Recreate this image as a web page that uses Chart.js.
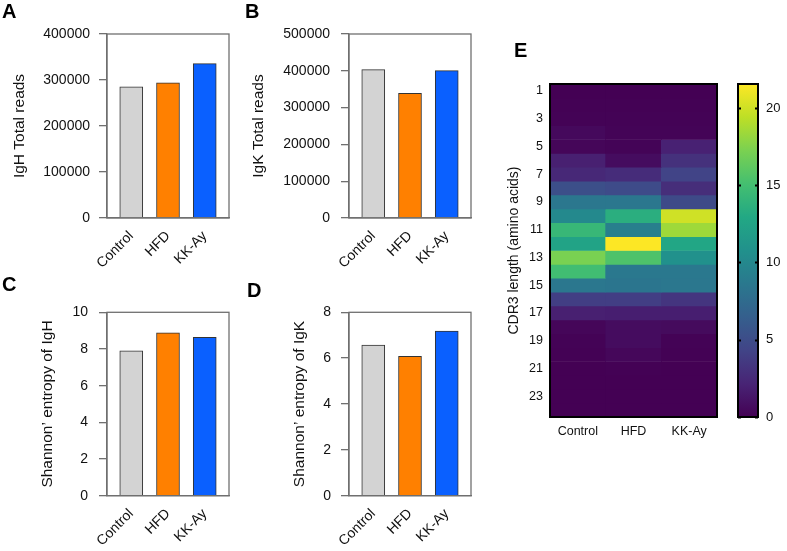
<!DOCTYPE html>
<html><head><meta charset="utf-8">
<script src="https://cdn.jsdelivr.net/npm/chart.js@4.4.1/dist/chart.umd.min.js"></script>
<style>
html,body{margin:0;padding:0;background:#fff;}
#wrap{position:relative;width:787px;height:551px;overflow:hidden;background:#fff;}
canvas{position:absolute;}
.lbl{position:absolute;font:bold 20px "Liberation Sans",Arial,sans-serif;line-height:20px;color:#000;}
</style></head><body>
<div id="wrap">
<canvas id="cA" width="240" height="275" style="left:0px;top:0px"></canvas>
<canvas id="cB" width="245" height="275" style="left:240px;top:0px"></canvas>
<canvas id="cC" width="240" height="276" style="left:0px;top:275px"></canvas>
<canvas id="cD" width="245" height="276" style="left:240px;top:275px"></canvas>
<canvas id="cE" width="235" height="400" style="left:495px;top:60px"></canvas>
<canvas id="cBar" width="57" height="400" style="left:730px;top:60px"></canvas>
<div class="lbl" style="left:2px;top:1px">A</div>
<div class="lbl" style="left:245px;top:1px">B</div>
<div class="lbl" style="left:2px;top:274px">C</div>
<div class="lbl" style="left:247px;top:280px">D</div>
<div class="lbl" style="left:514px;top:40px">E</div>
</div>
<script>
// ---------------- data ----------------
const groups = ['Control', 'HFD', 'KK-Ay'];
const ighTotalReads = [285000, 294000, 335500];
const igkTotalReads = [403000, 339000, 400500];
const ighEntropy = [7.90, 8.88, 8.64];
const igkEntropy = [6.57, 6.08, 7.18];

const cdr3Lengths = [1,2,3,4,5,6,7,8,9,10,11,12,13,14,15,16,17,18,19,20,21,22,23,24];
const cdr3TickLabels = [1,3,5,7,9,11,13,15,17,19,21,23];
const cdr3Control = [0.0,0.05,0.1,0.5,0.3,1.9,2.4,5.2,8.5,10.1,14.3,12.5,17.2,14.9,8.5,3.9,1.9,0.3,0.1,0.05,0.02,0.02,0.02,0.02];
const cdr3HFD     = [0.0,0.05,0.1,0.2,0.2,0.7,2.7,4.9,8.5,13.5,9.2,21.5,15.5,8.6,8.4,3.9,1.8,0.7,0.7,0.4,0.05,0.02,0.02,0.02];
const cdr3KKAy    = [0.0,0.05,0.1,0.2,2.0,3.0,4.3,2.8,4.8,20.0,18.4,12.7,10.8,8.6,8.5,3.3,1.8,0.6,0.1,0.05,0.02,0.02,0.02,0.02];
const colorbarMax = 21.55;
const colorbarTicks = [0, 5, 10, 15, 20];

// ---------------- styles ----------------
const FONT = '"Liberation Sans", Arial, sans-serif';
Chart.defaults.font.family = FONT;
Chart.defaults.color = '#111';
const barFill = ['#d3d3d3', '#ff8000', '#0a60ff'];
const axisGray = '#707070';
const viridisStops = ['#440154','#482475','#414487','#355f8d','#2a788e','#21918c','#22a884','#44bf70','#7ad151','#bddf26','#fde725'];

function hexToRgb(h){ return [parseInt(h.slice(1,3),16), parseInt(h.slice(3,5),16), parseInt(h.slice(5,7),16)]; }
function viridis(t){
  t = Math.max(0, Math.min(1, t));
  const p = t * (viridisStops.length - 1);
  const i = Math.min(Math.floor(p), viridisStops.length - 2);
  const f = p - i;
  const a = hexToRgb(viridisStops[i]), b = hexToRgb(viridisStops[i+1]);
  const c = a.map((v, k) => Math.round(v + (b[k] - v) * f));
  return 'rgb(' + c.join(',') + ')';
}

const framePlugin = {
  id: 'frame',
  afterDraw(chart, args, opts) {
    const {left, top, right, bottom} = chart.chartArea;
    const c = chart.ctx;
    c.save();
    c.strokeStyle = opts.color || '#000';
    c.lineWidth = opts.width || 1;
    c.strokeRect(left, top, right - left, bottom - top);
    if (opts.innerTicks) {
      const ys = chart.scales.y;
      ys.ticks.forEach(t => {
        const y = Math.round(ys.getPixelForValue(t.value)) + 0.5;
        c.beginPath();
        c.moveTo(left, y); c.lineTo(left + opts.innerTicks, y);
        c.moveTo(right, y); c.lineTo(right - opts.innerTicks, y);
        c.stroke();
      });
    }
    c.restore();
  }
};

function makeBar(id, values, yMax, yStep, yTitle, L) {
  const cv = document.getElementById(id);
  const W = cv.width, H = cv.height;
  return new Chart(cv, {
    type: 'bar',
    data: {
      datasets: [{
        data: values.map((v, i) => ({x: i + 1, y: v})),
        backgroundColor: barFill,
        borderColor: '#333',
        borderWidth: 1,
        barThickness: 23
      }]
    },
    options: {
      responsive: false, animation: false, devicePixelRatio: 1,
      layout: {padding: {top: L.top, right: W - L.right, left: 0, bottom: 0}},
      plugins: {legend: {display: false}, tooltip: {enabled: false}, frame: {color: axisGray, width: 1.3}},
      scales: {
        x: {
          type: 'linear', min: 0.34, max: 3.66, offset: false,
          afterBuildTicks: s => { s.ticks = groups.map((g, i) => ({value: i + 1})); },
          afterFit: s => { s.height = H - L.bottom; },
          ticks: {callback: v => groups[v - 1], minRotation: 45, maxRotation: 45, autoSkip: false,
                  font: {size: 14}, color: '#111', padding: 2},
          grid: {display: false, drawTicks: true, tickLength: 8},
          border: {color: axisGray, width: 1.3}
        },
        y: {
          min: 0, max: yMax,
          afterFit: s => { s.width = L.left; },
          ticks: {stepSize: yStep, callback: v => String(v), font: {size: 14}, color: '#111', padding: L.tickPad},
          grid: {drawOnChartArea: false, tickLength: 8, color: axisGray, lineWidth: 1.3},
          border: {color: axisGray, width: 1.3},
          title: {display: true, text: yTitle, font: {size: 15.5}, color: '#111', padding: {top: L.titlePad, bottom: 0}}
        }
      }
    },
    plugins: [framePlugin]
  });
}

makeBar('cA', ighTotalReads, 400000, 100000, 'IgH Total reads', {left: 107, right: 229, top: 34, bottom: 218, tickPad: 9, titlePad: 10.7});
makeBar('cB', igkTotalReads, 500000, 100000, 'IgK Total reads', {left: 109, right: 231, top: 34, bottom: 218, tickPad: 11, titlePad: 9.3});
makeBar('cC', ighEntropy, 10, 2, 'Shannon\u2019 entropy of IgH', {left: 107, right: 229, top: 37.3, bottom: 220.7, tickPad: 11, titlePad: 38});
makeBar('cD', igkEntropy, 8, 2, 'Shannon\u2019 entropy of IgK', {left: 109, right: 231, top: 37.3, bottom: 220.7, tickPad: 10, titlePad: 50.3});

// ---------------- heatmap ----------------
(function(){
  const cv = document.getElementById('cE');
  const W = cv.width, H = cv.height;
  const cols = [cdr3Control, cdr3HFD, cdr3KKAy];
  const datasets = cdr3Lengths.map((len, i) => ({
    data: groups.map(() => [len - 0.5, len + 0.5]),
    backgroundColor: cols.map(col => viridis(col[i] / colorbarMax)),
    borderWidth: 0,
    barPercentage: 1, categoryPercentage: 1
  }));
  new Chart(cv, {
    type: 'bar',
    data: {labels: groups, datasets},
    options: {
      responsive: false, animation: false, devicePixelRatio: 1,
      layout: {padding: {top: 24, right: W - 222, left: 0, bottom: 0}},
      plugins: {legend: {display: false}, tooltip: {enabled: false}, frame: {color: '#000', width: 2}},
      scales: {
        x: {
          stacked: true,
          afterFit: s => { s.height = H - 357; },
          ticks: {font: {size: 12.5}, color: '#111', padding: 7},
          grid: {display: false, drawTicks: false}, border: {display: false}
        },
        y: {
          stacked: false, reverse: true, min: 0.5, max: 24.5,
          afterBuildTicks: s => { s.ticks = cdr3TickLabels.map(v => ({value: v})); },
          afterFit: s => { s.width = 55; },
          ticks: {font: {size: 12.5}, color: '#111', padding: 7},
          grid: {display: false, drawTicks: false}, border: {display: false},
          title: {display: true, text: 'CDR3 length (amino acids)', font: {size: 14}, color: '#111', padding: {top: 11, bottom: 0}}
        }
      }
    },
    plugins: [framePlugin]
  });
})();

// ---------------- colorbar ----------------
(function(){
  const cv = document.getElementById('cBar');
  const H = cv.height;
  new Chart(cv, {
    type: 'bar',
    data: {
      labels: ['scale'],
      datasets: [{
        data: [[0, colorbarMax]],
        backgroundColor: (ctx) => {
          const ch = ctx.chart; const ys = ch.scales.y;
          if (!ch.chartArea || !ys) return viridisStops[0];
          const g = ch.ctx.createLinearGradient(0, ys.getPixelForValue(0), 0, ys.getPixelForValue(colorbarMax));
          viridisStops.forEach((c, i) => g.addColorStop(i / (viridisStops.length - 1), c));
          return g;
        },
        borderWidth: 0, barPercentage: 1, categoryPercentage: 1
      }]
    },
    options: {
      responsive: false, animation: false, devicePixelRatio: 1,
      layout: {padding: {top: 24, right: 0, left: 8, bottom: H - 357}},
      plugins: {legend: {display: false}, tooltip: {enabled: false}, frame: {color: '#000', width: 2, innerTicks: 3}},
      scales: {
        x: {display: false},
        y: {
          position: 'right', min: 0, max: colorbarMax,
          afterBuildTicks: s => { s.ticks = colorbarTicks.map(v => ({value: v})); },
          afterFit: s => { s.width = 29; },
          ticks: {font: {size: 13}, color: '#111', padding: 8},
          grid: {display: false, drawTicks: false}, border: {display: false}
        }
      }
    },
    plugins: [framePlugin]
  });
})();
</script>
</body></html>
